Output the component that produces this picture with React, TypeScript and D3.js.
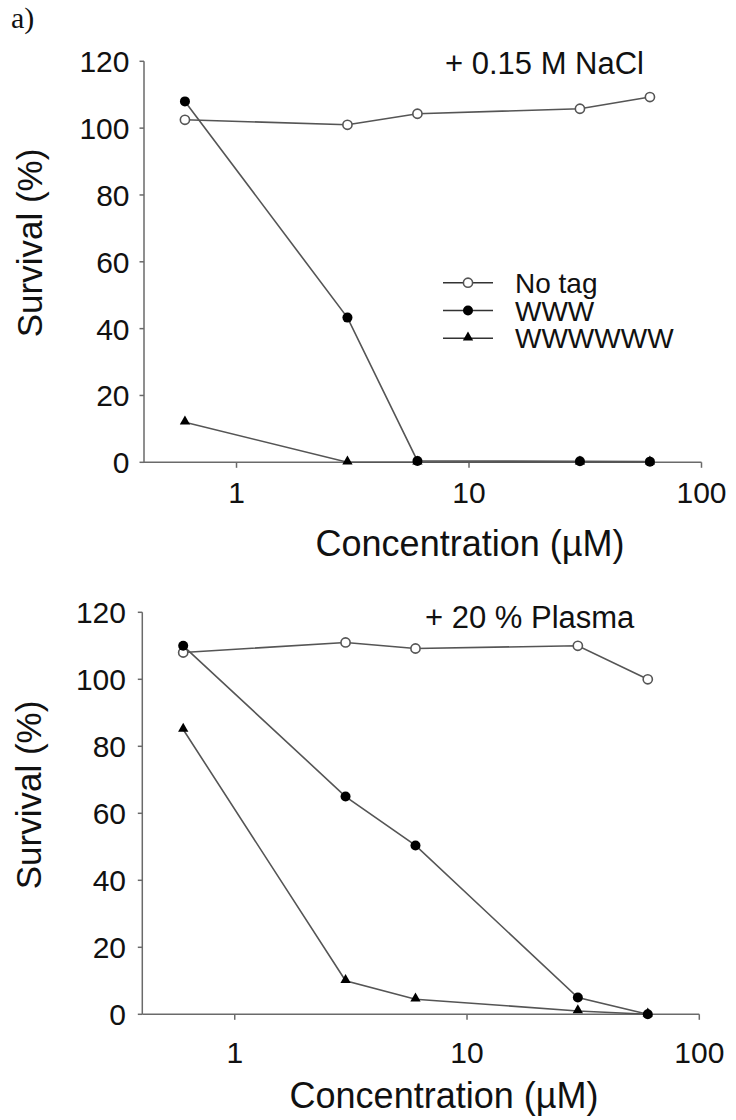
import React from "react";
import * as d3 from "d3";

// Peptide concentrations (µM)
const concentrations = [0.6, 3, 6, 30, 60];

// Survival (%) in 0.15 M NaCl
const naclNoTag = [102.5, 101, 104.3, 105.8, 109.3];
const naclWWW = [108, 43.3, 0.4, 0.3, 0.2];
const naclWWWWWW = [12, 0, 0, 0, 0];

// Survival (%) in 20 % plasma
const plasmaNoTag = [108, 111, 109.2, 110, 100];
const plasmaWWW = [110, 65, 50.4, 5, 0];
const plasmaWWWWWW = [85, 10, 4.5, 1, 0];

const xTicks = [1, 10, 100];
const yTicks = [0, 20, 40, 60, 80, 100, 120];
const seriesNames = ["No tag", "WWW", "WWWWWW"];

const FONT = "'Liberation Sans', Arial, Helvetica, sans-serif";
const LINE = "#555";
const AXIS = "#6a6a6a";

type Marker = "open" | "filled" | "triangle";

interface Series {
  name: string;
  values: number[];
  marker: Marker;
}

interface PanelProps {
  left: number;
  right: number;
  yZero: number;
  yTop: number;
  title: string;
  titleX: number;
  titleY: number;
  tickLabelDy: number;
  yLabelRight: number;
  axisTitleX: number;
  axisTitleY: number;
  yTitleX: number;
  yTitleY: number;
  series: Series[];
  legend?: { lineX0: number; lineX1: number; textX: number; y0: number; step: number };
}

const triangle = d3.symbol().type(d3.symbolTriangle).size(46);

function MarkerShape({ kind, cx, cy }: { kind: Marker; cx: number; cy: number }) {
  if (kind === "open")
    return <circle cx={cx} cy={cy} r={4.6} fill="#fff" stroke={LINE} strokeWidth={1.6} />;
  if (kind === "filled") return <circle cx={cx} cy={cy} r={5} fill="#000" />;
  return <path d={triangle() as string} transform={`translate(${cx},${cy - 0.8})`} fill="#000" />;
}

function Panel(p: PanelProps) {
  const x = d3.scaleLog().domain([0.4, 100]).range([p.left, p.right]);
  const y = d3.scaleLinear().domain([0, 120]).range([p.yZero, p.yTop]);
  const line = d3
    .line<number>()
    .x((_, i) => x(concentrations[i]))
    .y((v) => y(v));

  return (
    <g>
      {/* y axis */}
      <line x1={p.left} x2={p.left} y1={y(0)} y2={y(120)} stroke={AXIS} strokeWidth={1.5} />
      {yTicks.map((t) => (
        <g key={`y${t}`}>
          <line x1={p.left - 4.5} x2={p.left} y1={y(t)} y2={y(t)} stroke={AXIS} strokeWidth={1.5} />
          <text x={p.yLabelRight} y={y(t) + 11} textAnchor="end" fontSize={30} fontFamily={FONT} fill="#111">
            {t}
          </text>
        </g>
      ))}
      {/* x axis */}
      <line x1={p.left} x2={p.right} y1={y(0)} y2={y(0)} stroke={AXIS} strokeWidth={1.5} />
      {xTicks.map((t) => (
        <g key={`x${t}`}>
          <line x1={x(t)} x2={x(t)} y1={y(0)} y2={y(0) + 5.5} stroke={AXIS} strokeWidth={1.5} />
          <text x={x(t)} y={y(0) + p.tickLabelDy} textAnchor="middle" fontSize={30} fontFamily={FONT} fill="#111">
            {t}
          </text>
        </g>
      ))}
      <text x={p.axisTitleX} y={p.axisTitleY} textAnchor="middle" fontSize={36} fontFamily={FONT} fill="#111">
        Concentration (µM)
      </text>
      <text
        transform={`translate(${p.yTitleX},${p.yTitleY}) rotate(-90)`}
        textAnchor="middle"
        fontSize={35}
        fontFamily={FONT}
        fill="#111"
      >
        Survival (%)
      </text>
      <text x={p.titleX} y={p.titleY} fontSize={31} fontFamily={FONT} fill="#111">
        {p.title}
      </text>

      {/* data */}
      {p.series.map((s) => (
        <g key={s.name}>
          <path d={line(s.values) as string} fill="none" stroke={LINE} strokeWidth={1.6} />
          {s.values.map((v, i) => (
            <MarkerShape key={i} kind={s.marker} cx={x(concentrations[i])} cy={y(v)} />
          ))}
        </g>
      ))}

      {/* legend */}
      {p.legend &&
        seriesNames.map((name, i) => {
          const lg = p.legend!;
          const ly = lg.y0 + i * lg.step;
          const kind: Marker = i === 0 ? "open" : i === 1 ? "filled" : "triangle";
          return (
            <g key={`lg${name}`}>
              <line x1={lg.lineX0} x2={lg.lineX1} y1={ly} y2={ly} stroke="#333" strokeWidth={1.6} />
              <MarkerShape kind={kind} cx={(lg.lineX0 + lg.lineX1) / 2} cy={ly} />
              <text x={lg.textX} y={ly + 10} fontSize={28} fontFamily={FONT} fill="#111">
                {name}
              </text>
            </g>
          );
        })}
    </g>
  );
}

export default function App() {
  const naclSeries: Series[] = [
    { name: "No tag", values: naclNoTag, marker: "open" },
    { name: "WWWWWW", values: naclWWWWWW, marker: "triangle" },
    { name: "WWW", values: naclWWW, marker: "filled" },
  ];
  const plasmaSeries: Series[] = [
    { name: "No tag", values: plasmaNoTag, marker: "open" },
    { name: "WWWWWW", values: plasmaWWWWWW, marker: "triangle" },
    { name: "WWW", values: plasmaWWW, marker: "filled" },
  ];

  return (
    <div style={{ position: "absolute", left: 0, top: 0 }}>
      <svg width={736} height={1120} viewBox="0 0 736 1120" style={{ display: "block", background: "#fff" }}>
        <rect width={736} height={1120} fill="#fff" />
        <text x={11} y={28} fontSize={30} fontFamily="'Liberation Serif', 'Times New Roman', serif" fill="#111">
          a)
        </text>
        <Panel
          left={144}
          right={701.5}
          yZero={462.3}
          yTop={61.3}
          title="+ 0.15 M NaCl"
          titleX={445}
          titleY={74}
          tickLabelDy={40.4}
          yLabelRight={129.5}
          axisTitleX={470}
          axisTitleY={556}
          yTitleX={42}
          yTitleY={243}
          series={naclSeries}
          legend={{ lineX0: 443, lineX1: 493, textX: 515, y0: 282.7, step: 27.8 }}
        />
        <Panel
          left={142.3}
          right={699.3}
          yZero={1014.3}
          yTop={612.3}
          title="+ 20 % Plasma"
          titleX={425}
          titleY={628}
          tickLabelDy={48.7}
          yLabelRight={126}
          axisTitleX={444}
          axisTitleY={1108}
          yTitleX={41}
          yTitleY={795}
          series={plasmaSeries}
        />
      </svg>
    </div>
  );
}
